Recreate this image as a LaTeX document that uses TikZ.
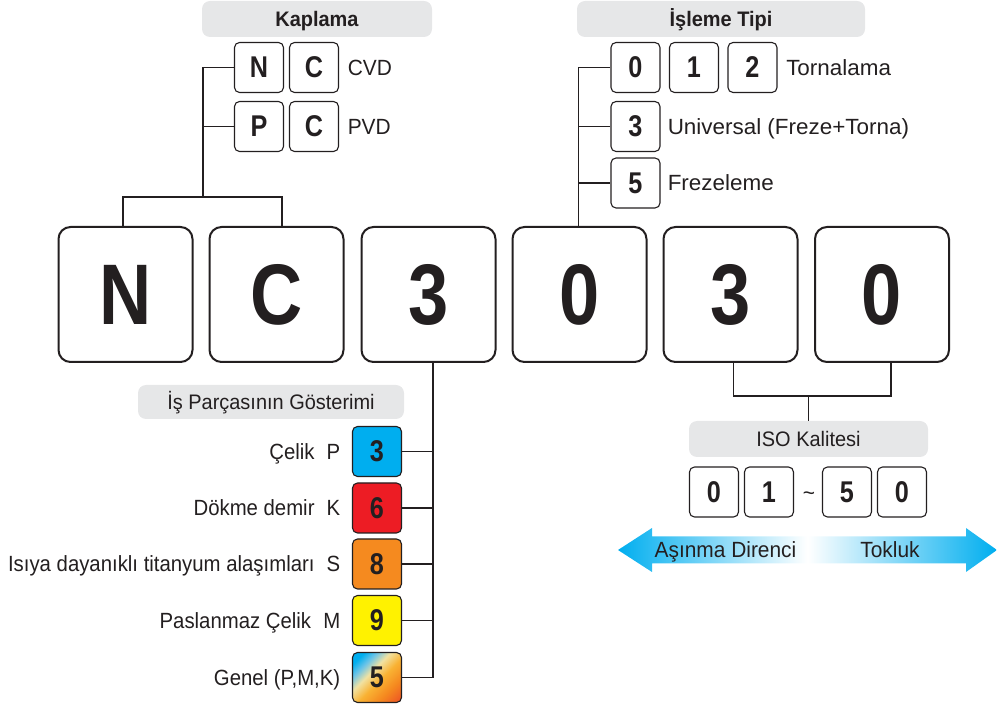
\documentclass[tikz,border=0pt]{standalone}
\usepackage{fontspec}
\setmainfont{Liberation Sans}[FakeStretch=0.95]
\newfontfamily\condf{Liberation Sans}[FakeStretch=0.84]
\newfontfamily\narrowf{Liberation Sans}[FakeStretch=0.925]
\newfontfamily\widef{Liberation Sans}[FakeStretch=1.02]
\usetikzlibrary{calc}
\definecolor{ln}{HTML}{231F20}
\definecolor{hdrc}{HTML}{E6E7E8}
\definecolor{cy}{HTML}{00AEEF}
\definecolor{rd}{HTML}{ED1C24}
\definecolor{og}{HTML}{F58A1F}
\definecolor{yl}{HTML}{FFF200}
\definecolor{gRed}{HTML}{EE5A24}
\definecolor{gYo}{HTML}{F9B233}
\definecolor{gPale}{HTML}{F1E2A2}
\definecolor{gBlue}{HTML}{6CC4E8}
\pgfdeclareverticalshading{genshade}{100bp}{color(0bp)=(gRed); color(18bp)=(gRed); color(32bp)=(og); color(46bp)=(gYo); color(58bp)=(gPale); color(68bp)=(gBlue); color(77bp)=(cy); color(100bp)=(cy)}
\tikzset{
 bigbox/.style={draw=ln, line width=2pt, rounded corners=12pt, minimum width=134pt, minimum height=135pt, inner sep=0pt, font=\condf\bfseries\fontsize{86}{86}\selectfont, text=ln},
 smallbox/.style={draw=ln, line width=1.1pt, rounded corners=5pt, minimum width=49pt, minimum height=50pt, inner sep=0pt, font=\condf\bfseries\fontsize{30}{30}\selectfont, text=ln},
 hdrbox/.style={fill=hdrc, rounded corners=8pt, inner sep=0pt, text=ln, font=\fontsize{21}{24}\selectfont, text height=15pt, text depth=0pt},
 lbl/.style={font=\fontsize{22}{24}\selectfont, text=ln, inner sep=0pt, text height=15.8pt, text depth=0pt},
 nlbl/.style={lbl, font=\narrowf\fontsize{22}{24}\selectfont},
 wlbl/.style={lbl, font=\widef\fontsize{22}{24}\selectfont},
 conn/.style={draw=ln, line width=1.4pt},
}
\begin{document}
\begin{tikzpicture}[x=1pt,y=-1pt]
\useasboundingbox (0,0) rectangle (997,708);
% big boxes
\node[bigbox] (b1) at (125.5,294.5) {N};
\node[bigbox] (b2) at (276.5,294.5) {C};
\node[bigbox] (b3) at (428.5,294.5) {3};
\node[bigbox] (b4) at (579.5,294.5) {0};
\node[bigbox] (b5) at (730.5,294.5) {3};
\node[bigbox] (b6) at (882,294.5) {0};
% Kaplama
\node[hdrbox, minimum width=230pt, minimum height=36pt, font=\bfseries\fontsize{21}{24}\selectfont] (kh) at (317,19) {Kaplama};
\node[smallbox] (n1) at (259,67.5) {N};
\node[smallbox] (n2) at (314,67.5) {C};
\node[smallbox] (p1) at (259,126.5) {P};
\node[smallbox] (p2) at (314,126.5) {C};
\node[lbl, anchor=west] (cvd) at ($(n2.east)+(8.5,0)$) {CVD};
\node[lbl, anchor=west] (pvd) at ($(p2.east)+(8.5,0)$) {PVD};
\coordinate (kj) at (203,197);
\draw[conn] ($(b1.north)+(-2.5,0)$) |- (kj) -| ($(b2.north)+(5.5,0)$);
\draw[conn] (kj) |- (n1.west);
\draw[conn] (kj) |- (p1.west);
% Isleme Tipi
\node[hdrbox, minimum width=288pt, minimum height=36pt, font=\bfseries\fontsize{21}{24}\selectfont] (ih) at (721,19) {İşleme Tipi};
\node[smallbox] (i0) at (635.5,67.5) {0};
\node[smallbox] (i1) at (694,67.5) {1};
\node[smallbox] (i2) at (752.5,67.5) {2};
\node[smallbox] (i3) at (635.5,126.5) {3};
\node[smallbox] (i5) at (635.5,183) {5};
\node[wlbl, anchor=west] (torn) at ($(i2.east)+(8.5,0)$) {Tornalama};
\node[wlbl, anchor=west] (univ) at ($(i3.east)+(7,0)$) {Universal (Freze+Torna)};
\node[wlbl, anchor=west] (frez) at ($(i5.east)+(7,0)$) {Frezeleme};
\coordinate (ij) at ($(b4.north)+(-1,0)$);
\draw[conn] (ij) |- (i0.west);
\draw[conn] (ij) |- (i3.west);
\draw[conn] (ij) |- (i5.west);
% Is parcasi
\node[hdrbox, minimum width=266pt, minimum height=34pt] (wh) at (271,402) {İş Parçasının Gösterimi};
\node[smallbox, fill=cy] (c3) at (377,451.5) {3};
\node[smallbox, fill=rd] (c6) at (377,508) {6};
\node[smallbox, fill=og] (c8) at (377,564) {8};
\node[smallbox, fill=yl] (c9) at (377,620.5) {9};
\node[smallbox, shading=genshade, shading angle=45] (c5) at (377,677.5) {5};
\node[nlbl, anchor=east] (lp) at ($(c3.west)+(-11.5,0)$) {Çelik\hspace{0.55em}P};
\node[nlbl, anchor=east] (lk) at ($(c6.west)+(-11.5,0)$) {Dökme demir\hspace{0.55em}K};
\node[nlbl, anchor=east] (ls) at ($(c8.west)+(-11.5,0)$) {Isıya dayanıklı titanyum alaşımları\hspace{0.55em}S};
\node[nlbl, anchor=east] (lm) at ($(c9.west)+(-11.5,0)$) {Paslanmaz Çelik\hspace{0.55em}M};
\node[nlbl, anchor=east] (lg) at ($(c5.west)+(-11.5,0)$) {Genel (P,M,K)};
\coordinate (wj) at ($(b3.south)+(4.5,0)$);
\draw[conn] (wj) |- (c5.east);
\draw[conn] (wj) |- (c3.east);
\draw[conn] (wj) |- (c6.east);
\draw[conn] (wj) |- (c8.east);
\draw[conn] (wj) |- (c9.east);
% ISO
\node[hdrbox, minimum width=239pt, minimum height=36pt] (iso) at (808.5,439) {ISO Kalitesi};
\coordinate (qj) at (808.5,396);
\draw[conn] ($(b5.south)+(3,0)$) |- (qj) -| ($(b6.south)+(9,0)$);
\draw[conn] (qj) -- (iso.north);
\node[smallbox] (q0) at (714,492) {0};
\node[smallbox] (q1) at (769,492) {1};
\node[smallbox] (q5) at (847,492) {5};
\node[smallbox] (q6) at (902,492) {0};
\node[font=\fontsize{22}{24}\selectfont, text=ln, inner sep=0pt] (tl) at (809,496) {\textasciitilde};
% arrow
\path[left color=cy, right color=cy, middle color=white]
  (618,550) -- (652,528) -- (652,536.5) -- (966,536.5) -- (966,528) -- (997,550)
  -- (966,572) -- (966,563.5) -- (652,563.5) -- (652,572) -- cycle;
\node[lbl] (ad) at (725.5,550) {Aşınma Direnci};
\node[lbl] (tk) at (890,550) {Tokluk};
\end{tikzpicture}
\end{document}
